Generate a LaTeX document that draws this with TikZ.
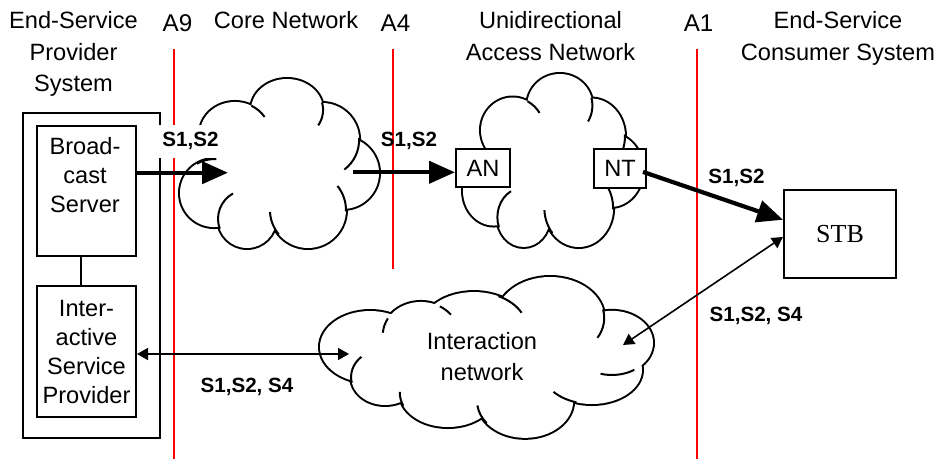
\documentclass[tikz,border=0pt]{standalone}
\usepackage{fontspec}
\setmainfont{Liberation Sans}
\newfontfamily\stbfont{Liberation Serif}
\usetikzlibrary{calc, arrows.meta, positioning}

% cloud made of puffs in a unit box: #1,#2 corner, #3,#4 size, #5 puffs, #6 inner hooks, #7 core
\newcommand{\puffcloud}[7]{%
  \begin{scope}[shift={(#1,#2)}, xscale=#3, yscale=#4]
    \foreach \pu/\pv/\pa/\pb in {#5}
      \draw[line width=2pt] (\pu,\pv) ellipse[x radius=\pa, y radius=\pb];
    \foreach \pu/\pv/\pa/\pb in {#5,#7}
      \fill[white] (\pu,\pv) ellipse[x radius=\pa, y radius=\pb];
    \foreach \pu/\pv/\pa/\pb/\ps/\pe in {#6}
      \draw[cloudline] (\pu,\pv) ++(\ps:{\pa} and {\pb}) arc[start angle=\ps, end angle=\pe, x radius=\pa, y radius=\pb];
  \end{scope}}
\newcommand{\netcloud}[4]{%
  \puffcloud{#1}{#2}{#3}{#4}
    {0.171/0.675/0.171/0.201, 0.276/0.325/0.176/0.189, 0.538/0.183/0.181/0.183,
     0.714/0.361/0.186/0.219, 0.819/0.556/0.181/0.213, 0.643/0.775/0.191/0.225,
     0.337/0.828/0.146/0.172}
    {0.171/0.675/0.171/0.201/-120/-86, 0.276/0.325/0.176/0.189/-62/-32,
     0.538/0.183/0.181/0.183/-14/30, 0.714/0.361/0.186/0.219/-3/53,
     0.643/0.775/0.191/0.225/2/-39, 0.643/0.775/0.191/0.225/140/177,
     0.337/0.828/0.146/0.172/160/241}
    {0.503/0.509/0.276/0.266}}
\newcommand{\widecloud}[4]{%
  \puffcloud{#1}{#2}{#3}{#4}
    {0.153/0.432/0.150/0.222, 0.305/0.358/0.114/0.204, 0.464/0.309/0.156/0.216,
     0.692/0.253/0.162/0.253, 0.877/0.407/0.123/0.198, 0.817/0.574/0.150/0.210,
     0.617/0.765/0.144/0.228, 0.386/0.716/0.144/0.210, 0.198/0.617/0.102/0.173}
    {0.305/0.358/0.114/0.204/-150/-176, 0.305/0.358/0.114/0.204/-60/-38,
     0.464/0.309/0.156/0.216/-62/-24, 0.692/0.253/0.162/0.253/-12/29,
     0.877/0.407/0.123/0.198/57/106, 0.817/0.574/0.150/0.210/108/140,
     0.617/0.765/0.144/0.228/143/173, 0.386/0.716/0.144/0.210/158/182,
     0.198/0.617/0.102/0.173/168/226}
    {0.500/0.512/0.299/0.247}}

\begin{document}
\begin{tikzpicture}[x=0.5pt, y=-0.5pt,
    head/.style={font=\fontsize{11.8}{15.6}\selectfont, inner sep=0pt, align=center},
    txt/.style={font=\fontsize{11.8}{14.5}\selectfont, inner sep=0pt, align=center},
    lbl/.style={font=\fontsize{10.3}{12}\selectfont\bfseries, inner sep=0pt},
    box/.style={draw, line width=1pt, fill=white, inner sep=0pt},
    ref/.style={red, line width=1pt},
    cloudline/.style={line width=1pt},
    thick arrow/.style={line width=2.1pt, -{Triangle[length=13pt, width=11pt]}},
    thin arrow/.style={line width=0.8pt, {Triangle[length=5.5pt, width=6pt]}-{Triangle[length=5.5pt, width=6pt]}}]
  \useasboundingbox (0,0) rectangle (937,459);

  % titles and reference points
  \node[head, anchor=north] (ESPhead) at (73.5,11.4) {End-Service\\Provider\\System};
  \node[head, anchor=base] (CNhead) at (286,29) {Core Network};
  \node[head, anchor=north] (UANhead) at (550.5,11.4) {Unidirectional\\Access Network};
  \node[head, anchor=north] (ESChead) at (838,11.4) {End-Service\\Consumer System};
  \node[head, font=\fontsize{12.1}{14}\selectfont, anchor=base] (A9) at (177.5,31.7) {A9};
  \node[head, font=\fontsize{12.1}{14}\selectfont, anchor=base] (A4) at (395.5,31.7) {A4};
  \node[head, font=\fontsize{12.1}{14}\selectfont, anchor=base] (A1) at (698.6,31.3) {A1};
  \draw[ref] (174,49) -- (174,459);
  \draw[ref] (393,49) -- (393,269);
  \draw[ref] (697,49) -- (697,459);

  % networks
  \netcloud{180}{79}{199}{169}
  \netcloud{463}{74}{180}{173}
  \widecloud{319}{277}{334}{162}
  \node[txt, font=\fontsize{11.8}{15.4}\selectfont, anchor=north] (INtxt) at (482,332.4) {Interaction\\network};

  % provider system
  \node[box, minimum width=68.5pt, minimum height=162.5pt] (ESP) at (91.5,275.5) {};
  \node[box, minimum width=49.5pt, minimum height=65pt] (BS) at (86.5,191) {};
  \node[txt, anchor=north] (BStxt) at (85,137) {Broad-\\cast\\Server};
  \node[box, txt, minimum width=49.5pt, minimum height=65.5pt] (ISP) at (86.5,351.5) {Inter-\\active\\Service\\Provider};
  \draw[line width=0.7pt] ([xshift=-2.7pt]BS.south) -- ([xshift=-2.7pt]ISP.north);

  \node[box, txt, minimum width=27pt, minimum height=19pt] (AN) at (483,168) {AN};
  \node[box, txt, minimum width=26pt, minimum height=19.5pt] (NT) at (620,168.5) {NT};
  \node[box, font=\stbfont\fontsize{13}{15}\selectfont, minimum width=56pt, minimum height=44pt] (STB) at (840,234) {STB};

  % flows
  \coordinate (coreIn) at (228,172.7);
  \coordinate (coreOut) at (353,172.3);
  \coordinate (inA) at (349,354);
  \coordinate (inB) at (623,345);
  \draw[thick arrow] (BS.east |- coreIn) -- (coreIn);
  \draw[thick arrow] (coreOut) -- (coreOut -| AN.west);
  \draw[thick arrow] ([shift={(-2pt,-1.7pt)}]NT.east) -- (STB.166);
  \draw[thin arrow] (ISP.east |- inA) -- (inA);
  \draw[thin arrow] (STB.183) -- (inB);

  \node[lbl, fill=white, inner sep=4pt, anchor=base] (L1) at (190.5,147) {S1,S2};
  \node[lbl, anchor=base] (L2) at (409,147) {S1,S2};
  \node[lbl, anchor=base] (L3) at (736.5,184) {S1,S2};
  \node[lbl, anchor=base] (L4) at (756,322) {S1,S2, S4};
  \node[lbl, anchor=base] (L5) at (247,393) {S1,S2, S4};
\end{tikzpicture}
\end{document}
